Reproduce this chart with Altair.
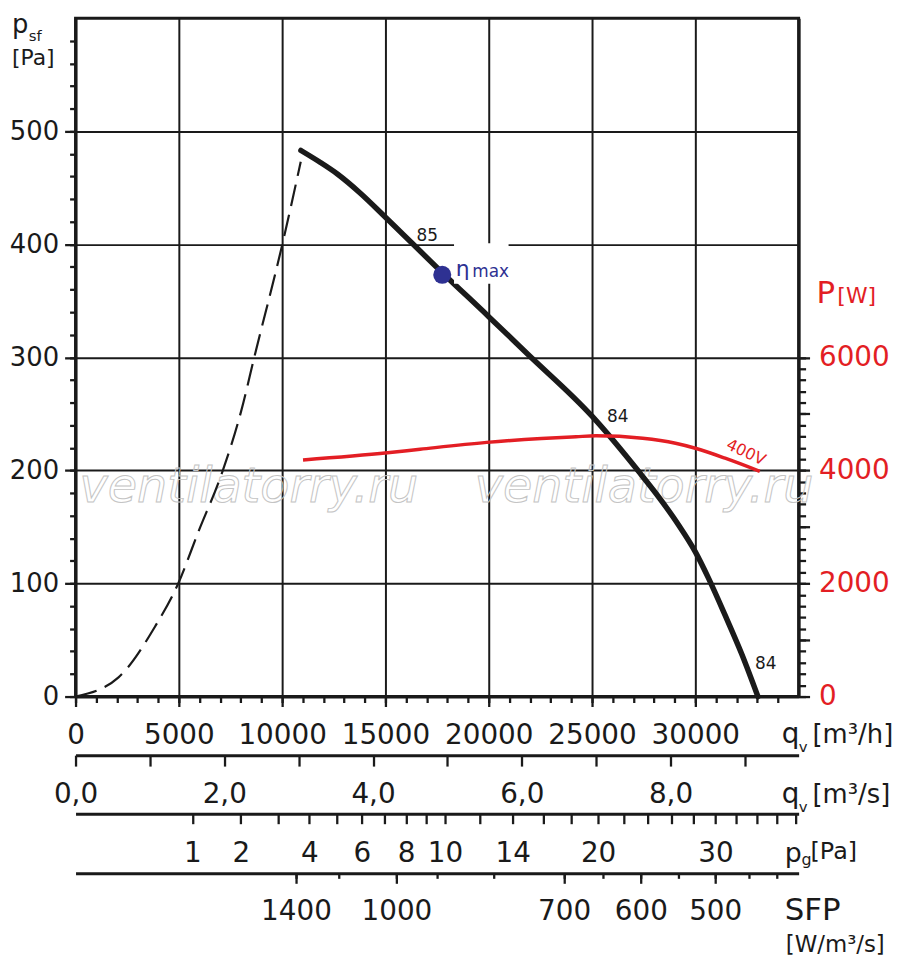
import altair as alt
import pandas as pd

# fan curve: static pressure p_sf [Pa] against air flow q_v [m3/h]
q_fan = [10910, 11800, 12690, 13800, 15000, 17690, 20000, 21880, 25000, 27260, 28410,
         29180, 30000, 30630, 31440, 32260, 33030]
p_fan = [483, 473, 462, 445, 424, 376, 336, 303, 248, 199, 172,
         152, 128, 105, 72, 37, 0]

# system curve (dashed part, left of the working range)
q_sys = [0, 2080, 3850, 4970, 5930, 7130, 8010, 8650, 10010, 10900]
p_sys = [0, 17, 62, 100, 145, 200, 252, 300, 400, 473]

# input power P [W] at 400V
q_pow = [11010, 15100, 16680, 19900, 22550, 24230, 25190, 27450, 29040, 30000, 31440, 33120]
P_pow = [4185, 4312, 4375, 4496, 4565, 4596, 4612, 4568, 4480, 4392, 4217, 3985]

# best efficiency point
eta_q = [17750]
eta_p = [373]

# efficiency marks along the curve
eff_text = ["85", "84", "84"]
eff_q = [17020, 26240, 33410]
eff_p = [407, 247, 29]

# axis ticks
qh_major = list(range(0, 35000, 5000))
qh_minor = list(range(0, 35000, 1000))
p_major = list(range(0, 600, 100))
p_minor = list(range(0, 600, 20))
pw_major = list(range(0, 6001, 1000))
pw_minor = list(range(0, 6001, 200))
qs_ticks = list(range(0, 10))
pg_ticks = list(range(1, 11)) + list(range(12, 39, 2))
pg_labels = [1, 2, 4, 6, 8, 10, 14, 20, 30]
sfp_values = [1400, 1200, 1000, 900, 800, 700, 650, 600, 550, 500, 450, 420]
sfp_flow = [10670, 12740, 15530, 17500, 20240, 23650, 25530, 27360, 29180, 30960, 32600, 33940]
sfp_labels = [1400, 1000, 700, 600, 500]

FONT = "DejaVu Sans"
INK = "#1a1a1a"
RED = "#e31e24"
BLUE = "#2e3192"
W, H = 728, 683

xq = alt.Scale(domain=[0, 35000], nice=False)
yp = alt.Scale(domain=[0, 600], nice=False)
yP = alt.Scale(domain=[0, 12000], nice=False)

fan_df = pd.DataFrame({"q": q_fan, "p": p_fan})
sys_df = pd.DataFrame({"q": q_sys, "p": p_sys})
pow_df = pd.DataFrame({"q": q_pow, "P": P_pow})
eta_df = pd.DataFrame({"q": eta_q, "p": eta_p})
eff_df = pd.DataFrame({"q": eff_q, "p": eff_p, "t": eff_text})
dummy = pd.DataFrame({"k": [0]})


def ax(**kw):
    base = dict(labelFont=FONT, labelFontSize=28, labelColor=INK, domainColor=INK,
                domainWidth=3, tickColor=INK, tickWidth=2.3, title=None, grid=False,
                labelFlush=False, labelOverlap=False)
    base.update(kw)
    return alt.Axis(**base)


def txt(s, x, y, size, color=INK, style="normal"):
    return alt.Chart(dummy).mark_text(
        text=s, font=FONT, fontSize=size, color=color, align="left",
        baseline="alphabetic", fontStyle=style
    ).encode(x=alt.value(x), y=alt.value(y))


def xy_hidden(yscale=yp, yfield="p:Q"):
    return dict(x=alt.X("q:Q", scale=xq, axis=None), y=alt.Y(yfield, scale=yscale, axis=None))


# watermark
mark_wm = dict(font=FONT, fontSize=48, fontStyle="italic", fillOpacity=0,
               stroke="#c4c4c4", strokeWidth=1, align="left", baseline="alphabetic")
wm1 = alt.Chart(dummy).mark_text(text="ventilatorry.ru", **mark_wm).encode(x=alt.value(4), y=alt.value(487))
wm2 = alt.Chart(dummy).mark_text(text="ventilatorry.ru", **mark_wm).encode(x=alt.value(402), y=alt.value(487))

fan = alt.Chart(fan_df).mark_line(
    color=INK, strokeWidth=5.5, interpolate="monotone", strokeCap="round"
).encode(
    x=alt.X("q:Q", scale=xq, axis=ax(
        orient="bottom", values=qh_major, grid=True, gridColor=INK, gridWidth=2,
        tickSize=10, labelBaseline="alphabetic", labelPadding=37,
        labelExpr="'' + datum.value")),
    y=alt.Y("p:Q", scale=yp, axis=ax(
        orient="left", values=p_major, grid=True, gridColor=INK, gridWidth=2,
        tickSize=11, labelPadding=6, labelFontSize=26, labelExpr="'' + datum.value")),
)

minor = alt.Chart(fan_df).mark_point(opacity=0).encode(
    x=alt.X("q:Q", scale=xq, axis=ax(orient="bottom", values=qh_minor, tickSize=6,
                                      labels=False, domain=False)),
    y=alt.Y("p:Q", scale=yp, axis=ax(orient="left", values=p_minor, tickSize=6,
                                      labels=False, domain=False)),
)

system = alt.Chart(sys_df).mark_line(
    color=INK, strokeWidth=2.2, strokeDash=[22, 9], interpolate="monotone"
).encode(**xy_hidden())

power = alt.Chart(pow_df).mark_line(
    color=RED, strokeWidth=3.5, interpolate="monotone"
).encode(
    x=alt.X("q:Q", scale=xq, axis=None),
    y=alt.Y("P:Q", scale=yP, axis=ax(
        orient="right", values=pw_major, tickSize=11, labelPadding=9, labelColor=RED,
        labelExpr="datum.value % 2000 === 0 ? '' + datum.value : ''")),
)

power_minor = alt.Chart(pow_df).mark_point(opacity=0).encode(
    y=alt.Y("P:Q", scale=yP, axis=ax(orient="right", values=pw_minor, tickSize=7,
                                      labels=False, domain=False)),
)

qs_axis = alt.Chart(pd.DataFrame({"qs": qs_ticks})).mark_point(opacity=0).encode(
    x=alt.X("qs:Q", scale=alt.Scale(domain=[0, 35000 / 3600], nice=False), axis=ax(
        orient="bottom", offset=59, values=qs_ticks, tickSize=11,
        labelBaseline="alphabetic", labelPadding=37,
        labelExpr="datum.value % 2 === 0 ? replace(format(datum.value, '.1f'), '.', ',') : ''")),
)

pg_axis = alt.Chart(pd.DataFrame({"pg": pg_ticks})).mark_point(opacity=0).encode(
    x=alt.X("pg:Q", scale=alt.Scale(type="sqrt", domain=[0, 38.3], nice=False), axis=ax(
        orient="bottom", offset=118, values=pg_ticks, tickSize=10,
        labelBaseline="alphabetic", labelPadding=38,
        labelExpr="indexof(%s, datum.value) >= 0 ? '' + datum.value : ''" % pg_labels)),
)

sfp_lab_flow = [sfp_flow[sfp_values.index(v)] for v in sfp_labels]
sfp_axis = alt.Chart(pd.DataFrame({"f": sfp_flow})).mark_point(opacity=0).encode(
    x=alt.X("f:Q", scale=xq, axis=ax(
        orient="bottom", offset=178, values=sfp_lab_flow, tickSize=10,
        labelBaseline="alphabetic", labelPadding=36,
        labelExpr="%s[indexof(%s, datum.value)]" % ([str(v) for v in sfp_labels], sfp_lab_flow))),
)
sfp_minor = alt.Chart(pd.DataFrame({"f": sfp_flow})).mark_point(opacity=0).encode(
    x=alt.X("f:Q", scale=xq, axis=ax(orient="bottom", offset=178, values=sfp_flow,
                                      tickSize=5, labels=False, domain=False)),
)

# white patch behind the eta label
box = alt.Chart(pd.DataFrame({"q": [18320], "q2": [20960], "p": [365], "p2": [401]})).mark_rect(
    color="white"
).encode(
    x=alt.X("q:Q", scale=xq, axis=None), x2="q2",
    y=alt.Y("p:Q", scale=yp, axis=None), y2="p2",
)

dot = alt.Chart(eta_df).mark_circle(size=330, color=BLUE, opacity=1).encode(**xy_hidden())

eta_lbl = alt.Chart(pd.DataFrame({"q": [18400], "p": [372], "t": ["\u03b7"]})).mark_text(
    font=FONT, fontSize=22, color=BLUE, align="left", baseline="alphabetic"
).encode(text="t:N", **xy_hidden())
max_lbl = alt.Chart(pd.DataFrame({"q": [19200], "p": [371], "t": ["max"]})).mark_text(
    font=FONT, fontSize=17, color=BLUE, align="left", baseline="alphabetic"
).encode(text="t:N", **xy_hidden())

eff = alt.Chart(eff_df).mark_text(
    font=FONT, fontSize=17, color=INK
).encode(text="t:N", **xy_hidden())

volt = alt.Chart(pd.DataFrame({"q": [32450], "p": [216], "t": ["400V"]})).mark_text(
    font=FONT, fontSize=16, color=RED, angle=25
).encode(text="t:N", **xy_hidden())

titles = [
    txt("p", -64, 15, 26), txt("sf", -47, 23, 15), txt("[Pa]", -64, 47, 22),
    txt("P", 746, 287, 31, RED), txt("[W]", 767, 287, 22, RED),
    txt("q", 711, 730, 28), txt("v", 728, 739, 15), txt("[m\u00b3/h]", 742, 730, 26),
    txt("q", 711, 790, 28), txt("v", 728, 799, 15), txt("[m\u00b3/s]", 742, 790, 26),
    txt("p", 714, 850, 27), txt("g", 731, 853, 16), txt("[Pa]", 740, 847, 24),
    txt("SFP", 714, 908, 31), txt("[W/m\u00b3/s]", 715, 940, 23),
]

chart = alt.layer(
    wm1, wm2, fan, minor, system, power, power_minor, qs_axis, pg_axis, sfp_axis, sfp_minor,
    box, dot, eta_lbl, max_lbl, eff, volt, *titles
).resolve_scale(
    x="independent", y="independent"
).properties(
    width=W, height=H,
    padding={"left": 68, "top": 7, "right": 94, "bottom": 264},
    autosize=alt.AutoSizeParams(type="none"),
    background="white",
).configure_view(
    stroke=INK, strokeWidth=3
)

chart.save("out.html", embed_options={"renderer": "svg", "actions": False})
